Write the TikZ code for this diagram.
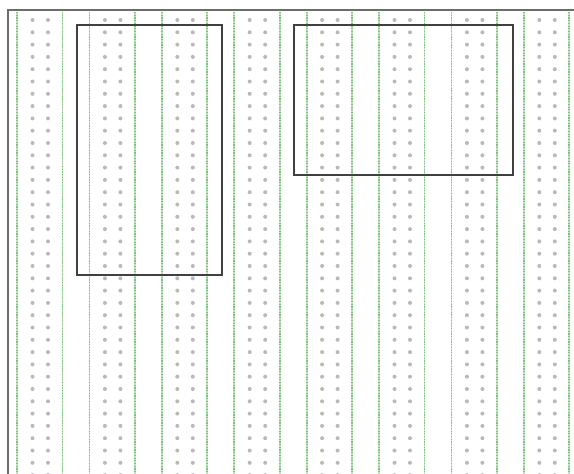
\documentclass[tikz,border=0pt]{standalone}
\begin{document}
\begin{tikzpicture}[x=1pt,y=-1pt,
  railbase/.style={draw=green!25!gray!35, line width=1.8pt},
  railline/.style={draw=green!40!gray!75, line width=1.8pt, dash pattern=on 1.2pt off 1.5pt},
  holedot/.style={fill=gray!55},
  frameline/.style={draw=gray!85!black, line width=2.5pt},
  boxline/.style={draw=black!75, line width=2pt},
  boxlinethin/.style={draw=black!75, line width=1.5pt}]
\useasboundingbox (0,0) rectangle (574,474);
\fill[white] (0,0) rectangle (574,474);
% columns of rails and holes
\foreach \g in {0,...,7}{
  \pgfmathsetmacro{\gx}{17+72.4*\g}
  \foreach \rx in {\gx,\gx+45.5}{
    \draw[railbase] (\rx,12) -- (\rx,474);
    \draw[railline] (\rx,12) -- (\rx,474);
  }
  \foreach \k in {0,...,37}{
    \pgfmathsetmacro{\yy}{20+12.3*\k}
    \fill[holedot] (\gx+15.5,\yy) circle (2);
    \fill[holedot] (\gx+31,\yy) circle (2);
  }
}
% outer frame (top and left visible)
\draw[frameline] (574,10) -- (8,10) -- (8,474);
% rectangles
\draw[boxline] (77,25) rectangle (222,275);
\draw[boxlinethin] (294,25) rectangle (513,175);
\end{tikzpicture}
\end{document}
